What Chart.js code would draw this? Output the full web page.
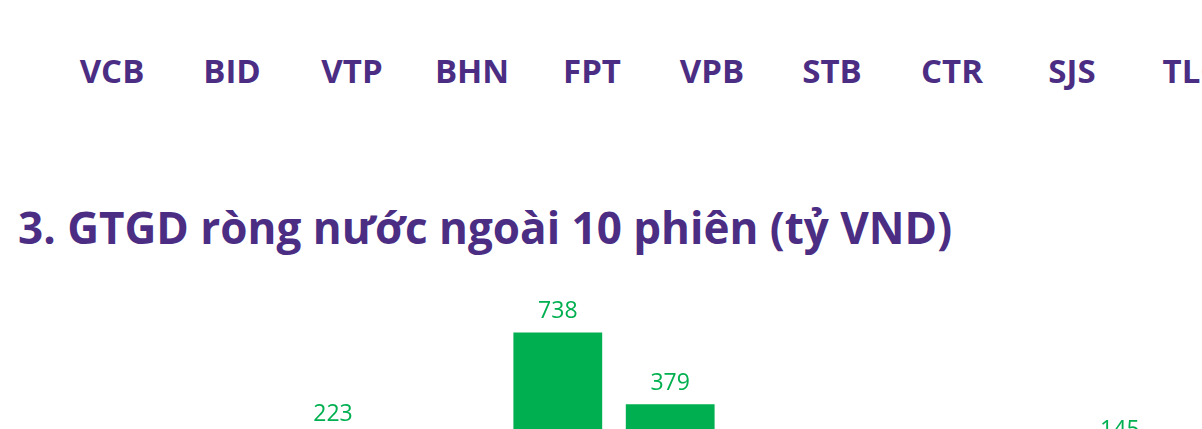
<!DOCTYPE html>
<html lang="vi">
<head>
<meta charset="utf-8">
<script src="https://cdn.jsdelivr.net/npm/chart.js@4.4.1/dist/chart.umd.min.js"></script>
<style>
    html, body {
        margin: 0;
        padding: 0;
        width: 1202px;
        height: 429px;
        overflow: hidden;
        background: #fff;
    }
    .tickers {
        position: absolute;
        top: 49px;
        left: 0;
        width: 1202px;
        height: 44px;
    }
    .tickers span {
        position: absolute;
        top: 0;
        width: 120px;
        margin-left: -60px;
        text-align: center;
        font-family: 'Open Sans', sans-serif;
        font-weight: 700;
        font-size: 33px;
        line-height: 44px;
        color: #4b2e83;
        white-space: nowrap;
    }
    h2 {
        position: absolute;
        top: 197px;
        left: 18px;
        margin: 0;
        font-family: 'Open Sans', sans-serif;
        font-weight: 700;
        font-size: 44px;
        line-height: 60px;
        color: #4b2e83;
        white-space: nowrap;
    }
    .chart-box {
        position: absolute;
        top: 280px;
        left: 0;
        width: 1202px;
        height: 400px;
    }
</style>
</head>
<body>
<div class="tickers" id="tickers"></div>
<h2>3. GTGD ròng nước ngoài 10 phiên (tỷ VND)</h2>
<div class="chart-box"><canvas id="foreignChart" width="1202" height="400"></canvas></div>

<script>
// Ma chung khoan (hang tren, cat tu bieu do truoc)
const tickers = ['VCB', 'BID', 'VTP', 'BHN', 'FPT', 'VPB', 'STB', 'CTR', 'SJS', 'TLC'];

// 10 phien giao dich
const sessions = ['P1', 'P2', 'P3', 'P4', 'P5', 'P6', 'P7', 'P8', 'P9', 'P10'];
// GTGD rong nuoc ngoai (ty VND)
const netValues = [-312, -455, 223, -187, 738, 379, -264, -521, -98, 145];

const PURPLE = '#4b2e83';
const GREEN = '#00b050';
const RED = '#e0322d';

// Hang ma chung khoan
const tickerRow = document.getElementById('tickers');
tickers.forEach((t, i) => {
    const el = document.createElement('span');
    el.textContent = t;
    el.style.left = (112 + i * 120) + 'px';
    tickerRow.appendChild(el);
});

// Plugin ve nhan gia tri tren cot
const valueLabels = {
    id: 'valueLabels',
    afterDatasetsDraw(chart) {
        const ctx = chart.ctx;
        const meta = chart.getDatasetMeta(0);
        ctx.save();
        ctx.font = '23px "Open Sans", sans-serif';
        ctx.textAlign = 'center';
        meta.data.forEach((bar, i) => {
            const v = netValues[i];
            ctx.fillStyle = v >= 0 ? GREEN : RED;
            if (v >= 0) {
                ctx.textBaseline = 'bottom';
                ctx.fillText(v, bar.x, bar.y - 9);
            } else {
                ctx.textBaseline = 'top';
                ctx.fillText(v, bar.x, bar.y + 9);
            }
        });
        ctx.restore();
    }
};

const ctx = document.getElementById('foreignChart').getContext('2d');
new Chart(ctx, {
    type: 'bar',
    data: {
        labels: sessions,
        datasets: [{
            data: netValues,
            backgroundColor: netValues.map(v => v >= 0 ? GREEN : RED),
            borderWidth: 0,
            categoryPercentage: 1,
            barPercentage: 0.79
        }]
    },
    options: {
        responsive: false,
        animation: false,
        layout: {
            padding: { left: 52, right: 26, top: 0, bottom: 0 }
        },
        plugins: {
            legend: { display: false },
            tooltip: { enabled: false }
        },
        scales: {
            x: { display: false },
            y: { display: false, min: -1000, max: 1000 }
        }
    },
    plugins: [valueLabels]
});
</script>
</body>
</html>
